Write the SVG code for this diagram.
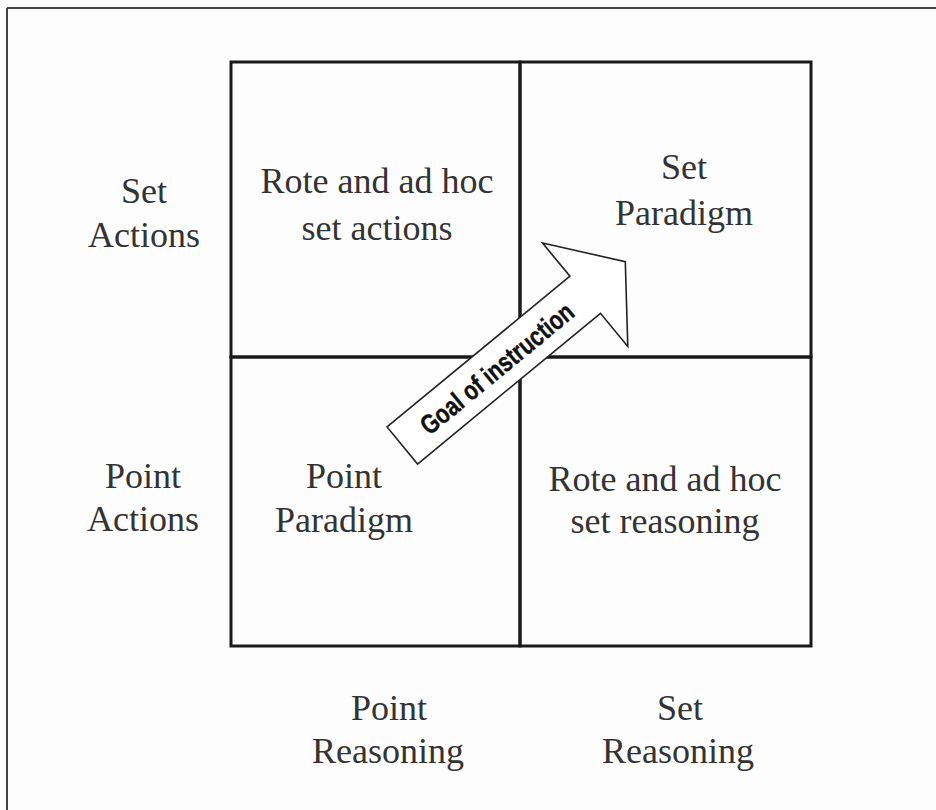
<svg xmlns="http://www.w3.org/2000/svg" width="936" height="810" viewBox="0 0 936 810">
  <style>
    .frame { fill: none; stroke: #444; stroke-width: 2; }
    .cell { fill: none; stroke: #1a1a1a; stroke-width: 3; }
    .cellText { font-family: "Liberation Serif", "Times New Roman", serif; font-size: 36px; fill: #333; text-anchor: middle; }
    .axisText { font-family: "Liberation Serif", "Times New Roman", serif; font-size: 36px; fill: #333; text-anchor: middle; }
    .arrowBody { fill: #fff; stroke: #222; stroke-width: 1.6; stroke-linejoin: miter; }
    .arrowText { font-family: "Liberation Sans", Arial, sans-serif; font-weight: bold; font-size: 27px; fill: #111; stroke: #111; stroke-width: 0.4; text-anchor: middle; }
  </style>

  <rect width="936" height="810" fill="#fdfdfd"/>

  <!-- page frame: top and left rules only -->
  <g id="frame">
    <line class="frame" x1="7" y1="8" x2="936" y2="8"/>
    <line class="frame" x1="7" y1="8" x2="7" y2="810"/>
  </g>

  <!-- 2x2 matrix cells -->
  <g id="cell-set-actions">
    <rect class="cell" x="231" y="62" width="289" height="295"/>
    <text class="cellText" x="377" y="193">Rote and ad hoc</text>
    <text class="cellText" x="377" y="240">set actions</text>
  </g>
  <g id="cell-set-paradigm">
    <rect class="cell" x="520" y="62" width="291" height="295"/>
    <text class="cellText" x="684" y="179">Set</text>
    <text class="cellText" x="684" y="225">Paradigm</text>
  </g>
  <g id="cell-point-paradigm">
    <rect class="cell" x="231" y="357" width="289" height="289"/>
    <text class="cellText" x="344" y="488">Point</text>
    <text class="cellText" x="344" y="532">Paradigm</text>
  </g>
  <g id="cell-set-reasoning">
    <rect class="cell" x="520" y="357" width="291" height="289"/>
    <text class="cellText" x="665" y="491">Rote and ad hoc</text>
    <text class="cellText" x="665" y="533">set reasoning</text>
  </g>

  <!-- row and column headings -->
  <g id="label-set-actions">
    <text class="axisText" x="144" y="203">Set</text>
    <text class="axisText" x="144" y="247">Actions</text>
  </g>
  <g id="label-point-actions">
    <text class="axisText" x="143" y="488">Point</text>
    <text class="axisText" x="143" y="531">Actions</text>
  </g>
  <g id="label-point-reasoning">
    <text class="axisText" x="389" y="720">Point</text>
    <text class="axisText" x="388" y="763">Reasoning</text>
  </g>
  <g id="label-set-reasoning">
    <text class="axisText" x="680" y="720">Set</text>
    <text class="axisText" x="678" y="763">Reasoning</text>
  </g>

  <!-- block arrow from the point paradigm toward the set paradigm -->
  <g id="connectors">
    <g id="goal-arrow" transform="translate(402.3 445.5) rotate(-39.5)">
      <polygon class="arrowBody" points="0,-24 237,-24 237,-67 289,0 237,67 237,24 0,24"/>
      <text class="arrowText" x="122" y="10" textLength="190" lengthAdjust="spacingAndGlyphs">Goal of instruction</text>
    </g>
  </g>
</svg>
